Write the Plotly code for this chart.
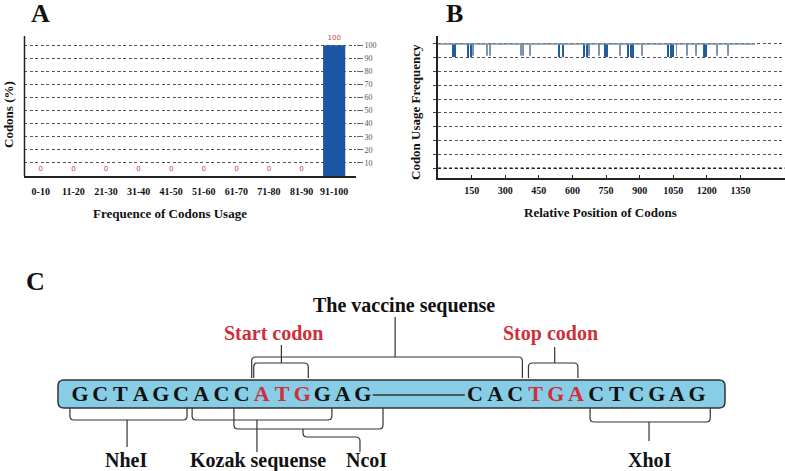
import plotly.graph_objects as go

SERIF = "Liberation Serif"
RED = "#cf2f3a"
LINE = "#333333"
DASH = "3px,2.5px"

# Panel A - distribution of codon usage frequency
freq_bins = ["0-10", "11-20", "21-30", "31-40", "41-50", "51-60", "61-70", "71-80", "81-90", "91-100"]
codon_pct = [0, 0, 0, 0, 0, 0, 0, 0, 0, 100]
pct_ticks = [10, 20, 30, 40, 50, 60, 70, 80, 90, 100]

# Panel B - codon usage frequency along the sequence
n_codons = 1415
base_freq = 1.0
dark_dip_pos = [66, 77, 135, 146, 542, 557, 652, 664, 745, 753, 850, 860, 869, 1028, 1039, 1050, 1189, 1196]
dark_dip_freq = [0.905] * len(dark_dip_pos)
light_dip_pos = [158, 217, 232, 370, 381, 411, 674, 720, 812, 909, 1065, 1113, 1152, 1244, 1296]
light_dip_freq = [0.915] * len(light_dip_pos)
pos_ticks = [150, 300, 450, 600, 750, 900, 1050, 1200, 1350]
freq_ticks = [0.1, 0.2, 0.3, 0.4, 0.5, 0.6, 0.7, 0.8, 0.9, 1.0]

# Panel C - cloning construct
seq_left = "GCTAGCACCATGGAG"
seq_right = "CACTGACTCGAG"
start_codon = (9, 12)   # indices in seq_left
stop_codon = (3, 6)     # indices in seq_right
right_offset = 19.55    # letter slots between the two sequence parts

fig = go.Figure()

# ---- A
fig.add_trace(go.Bar(
    x=freq_bins, y=codon_pct, width=0.68,
    marker=dict(color="#1a56a3", line_width=0),
    text=[str(v) for v in codon_pct], textposition="outside",
    textfont=dict(size=7, color="#c0504d", family="DejaVu Sans"),
    cliponaxis=False, xaxis="x", yaxis="y", showlegend=False,
))

# ---- B
fig.add_trace(go.Scatter(
    x=[1, n_codons], y=[base_freq, base_freq], mode="lines",
    line=dict(color="#7b8da2", width=1.5), xaxis="x2", yaxis="y2", showlegend=False,
))
fig.add_trace(go.Bar(
    x=light_dip_pos, y=[f - base_freq for f in light_dip_freq], base=base_freq,
    width=4, marker=dict(color="#7d93ad", line_width=0),
    xaxis="x2", yaxis="y2", showlegend=False,
))
fig.add_trace(go.Bar(
    x=dark_dip_pos, y=[f - base_freq for f in dark_dip_freq], base=base_freq,
    width=5.5, marker=dict(color="#1f5a99", line_width=0),
    xaxis="x2", yaxis="y2", showlegend=False,
))

# ---- C sequence letters
letters = list(seq_left) + list(seq_right)
letter_x = list(range(len(seq_left))) + [right_offset + i for i in range(len(seq_right))]
letter_col = []
for i in range(len(seq_left)):
    letter_col.append(RED if start_codon[0] <= i < start_codon[1] else "#111111")
for i in range(len(seq_right)):
    letter_col.append(RED if stop_codon[0] <= i < stop_codon[1] else "#111111")

shapes = []


def add_path(d, width=1.2):
    shapes.append(dict(type="path", path=d, xref="x3", yref="y3",
                       line=dict(color=LINE, width=width)))


PX = 20.2  # pixels per letter slot, used for corner radii


def bracket_below(x0, x1, ytop, ybot, r=4):
    rx = r / PX
    add_path(f"M {x0},{ytop} L {x0},{ybot - r} Q {x0},{ybot} {x0 + rx},{ybot} "
             f"L {x1 - rx},{ybot} Q {x1},{ybot} {x1},{ybot - r} L {x1},{ytop}")


def bracket_above(x0, x1, ytop, ybot, r=4):
    rx = r / PX
    add_path(f"M {x0},{ybot} L {x0},{ytop + r} Q {x0},{ytop} {x0 + rx},{ytop} "
             f"L {x1 - rx},{ytop} Q {x1},{ytop} {x1},{ytop + r} L {x1},{ybot}")


def stem(x, y0, y1):
    add_path(f"M {x},{y0} L {x},{y1}")


# sequence box
bx0, bx1, by0, by1, br = -1.09, 31.93, 380, 408, 6
brx = br / PX
shapes.append(dict(
    type="path", xref="x3", yref="y3",
    path=(f"M {bx0 + brx},{by0} L {bx1 - brx},{by0} Q {bx1},{by0} {bx1},{by0 + br} "
          f"L {bx1},{by1 - br} Q {bx1},{by1} {bx1 - brx},{by1} L {bx0 + brx},{by1} "
          f"Q {bx0},{by1} {bx0},{by1 - br} L {bx0},{by0 + br} Q {bx0},{by0} {bx0 + brx},{by0} Z"),
    fillcolor="#87cde6", line=dict(color=LINE, width=1.5), layer="below",
))
# linker between the two halves
add_path(f"M {len(seq_left) - 0.5},395 L {right_offset - 0.5},395", width=1.3)

# brackets under the box
bracket_below(-0.5, 5.3, 408, 420)      # NheI
stem(2.33, 420, 447)
bracket_below(5.55, 12.47, 408, 420)    # Kozak
bracket_below(7.62, 15.0, 408, 429)     # NcoI
stem(8.76, 420, 452)
add_path("M 11.04,429 L 11.04,433 Q 11.04,437 11.24,437 L 13.66,437 "
         "Q 13.86,437 13.86,441 L 13.86,452")
bracket_below(25.25, 31.2, 408, 422)    # XhoI
stem(28.17, 422, 441)

# brackets above the box
bracket_above(8.5, 21.9, 357, 378)      # vaccine
stem(15.6, 357, 317)
bracket_above(8.6, 11.3, 363, 378)      # start codon
stem(9.97, 363, 345)
bracket_above(22.2, 24.65, 363, 378)    # stop codon
stem(23.5, 363, 347)

# A left axis line (ticks are on the right side)
shapes.append(dict(type="line", xref="paper", yref="paper",
                   x0=0.0312, x1=0.0312, y0=0.6263, y1=0.9236,
                   line=dict(color="#222222", width=1.5)))
# B lowest gridline is drawn darker
shapes.append(dict(type="line", xref="x2 domain", yref="y2", x0=0, x1=1,
                   y0=freq_ticks[0], y1=freq_ticks[0],
                   line=dict(color="#111111", width=1.3, dash=DASH)))

fig.add_trace(go.Scatter(
    x=letter_x, y=[395] * len(letters), mode="text", text=letters,
    textfont=dict(family=SERIF, size=22, color=letter_col, weight="bold"),
    xaxis="x3", yaxis="y3", showlegend=False, hoverinfo="skip",
))

annotations = []


def label(text, x, y, size=20, color="#111111", xref="x3", yref="y3", angle=0):
    annotations.append(dict(text=text, x=x, y=y, xref=xref, yref=yref, showarrow=False,
                            xanchor="center", yanchor="middle", textangle=angle,
                            font=dict(family=SERIF, size=size, color=color, weight="bold")))


label("The vaccine sequense", 16.04, 305)
label("Start codon", 9.6, 333, color=RED)
label("Stop codon", 23.3, 333, color=RED)
label("NheI", 2.28, 460)
label("Kozak sequense", 8.8, 460)
label("NcoI", 14.16, 460)
label("XhoI", 28.2, 460)

# panel letters and axis titles (paper coords)
label("A", 40 / 785, 1 - 14 / 471, size=26, xref="paper", yref="paper")
label("B", 454 / 785, 1 - 14 / 471, size=26, xref="paper", yref="paper")
label("C", 35 / 785, 1 - 281 / 471, size=26, xref="paper", yref="paper")
label("Frequence of Codons Usage", 170 / 785, 1 - 213 / 471, size=13, xref="paper", yref="paper")
label("Relative Position of Codons", 600 / 785, 1 - 212 / 471, size=13, xref="paper", yref="paper")
label("Codons (%)", 9 / 785, 1 - 115 / 471, size=13, xref="paper", yref="paper", angle=-90)
label("Codon Usage Frequency", 416 / 785, 1 - 112 / 471, size=13, xref="paper", yref="paper", angle=-90)

grid = dict(showgrid=True, gridcolor="#555555", griddash=DASH, gridwidth=1)

fig.update_layout(
    width=785, height=471, margin=dict(l=0, r=0, t=0, b=0),
    paper_bgcolor="white", plot_bgcolor="rgba(0,0,0,0)", barmode="overlay",
    font=dict(family=SERIF, color="#111111"),
    shapes=shapes, annotations=annotations,
    xaxis=dict(domain=[0.0312, 0.4535], range=[-0.5, 9.67], showline=True,
               linecolor="#222222", linewidth=1.5, showgrid=False, zeroline=False,
               ticks="outside", ticklen=5, tickcolor="rgba(0,0,0,0)",
               tickfont=dict(family=SERIF, size=10, weight="bold"), anchor="y"),
    yaxis=dict(domain=[0.6263, 0.9236], range=[0, 107], side="right", anchor="x",
               tickvals=pct_ticks, ticks="outside", ticklen=6, tickcolor="#666666",
               tickfont=dict(family=SERIF, size=8, color="#555555"),
               zeroline=False, showline=False, **grid),
    xaxis2=dict(domain=[0.558, 1.0], range=[0, 1549], anchor="y2", showline=True,
                linecolor="#222222", linewidth=1.5, showgrid=False, zeroline=False,
                tickvals=pos_ticks, ticks="inside", ticklen=3, tickcolor="#222222",
                ticklabelstandoff=2,
                tickfont=dict(family=SERIF, size=10, weight="bold")),
    yaxis2=dict(domain=[0.622, 0.9236], range=[0.028, 1.058], anchor="x2",
                showline=True, linecolor="#222222", linewidth=1.5, zeroline=False,
                tickvals=freq_ticks, showticklabels=False, ticks="outside", ticklen=3,
                tickcolor="#444444", **grid),
    xaxis3=dict(domain=[0, 1], range=[-80 / PX, 705 / PX], anchor="y3", visible=False),
    yaxis3=dict(domain=[0, 1], range=[471, 0], anchor="x3", visible=False),
)

fig.write_html("out.html", config={"displayModeBar": False},
               post_script="document.body.style.margin = '0';")
